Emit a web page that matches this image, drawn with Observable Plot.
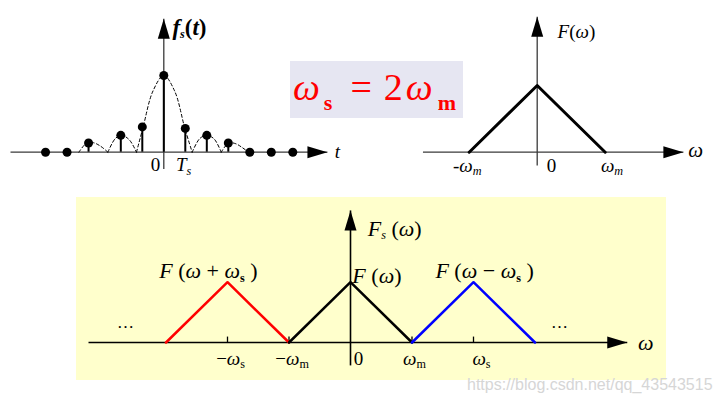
<!DOCTYPE html>
<html>
<head>
<meta charset="utf-8">
<script src="https://cdn.jsdelivr.net/npm/d3@7"></script>
<script src="https://cdn.jsdelivr.net/npm/@observablehq/plot@0.6"></script>
<style>
html,body{margin:0;padding:0;background:#fff;}
#wrap{position:relative;width:720px;height:405px;overflow:hidden;font-family:"Liberation Serif","Times New Roman","DejaVu Serif",serif;}
#wrap svg{position:absolute;left:0;top:0;}
#band{position:absolute;left:76px;top:197px;width:590px;height:183px;background:#ffffcc;}
#eq{position:absolute;left:290px;top:61px;width:173px;height:57px;background:#e6e6f2;color:#ff0000;
    font-family:"Liberation Serif","Times New Roman","DejaVu Serif",serif;font-size:38px;line-height:52px;white-space:nowrap;padding-left:3px;box-sizing:border-box;}
#eq span{font-family:"Liberation Serif","Times New Roman","DejaVu Serif",serif;}
#eq .w{font-style:italic;}
#eq .sb{font-weight:bold;font-size:22px;vertical-align:-10px;}
#wm{position:absolute;left:467px;top:376px;font-family:"Liberation Sans",Arial,sans-serif;font-size:16px;color:#d6d6d6;white-space:nowrap;}
</style>
</head>
<body>
<div id="wrap">
  <div id="band"></div>
  <div id="eq"><span class="w">ω</span><span class="sb" style="margin-left:4px">s</span><span style="margin-left:18px">=</span><span style="margin-left:12px">2</span><span class="w" style="margin-left:3px">ω</span><span class="sb" style="margin-left:5px">m</span></div>
  <div id="wm">https://blog.csdn.net/qq_43543515</div>
</div>
<script>
// ---------- Panel 1: sampled signal f_s(t), t in units of Ts ----------
const sampleT = [-5.5, -4.5, -3.5, -2, -1, 0, 1, 2, 3, 4, 5, 6];
const sampleV = [0, 0, 0.12, 0.22, 0.33, 1, 0.31, 0.22, 0.12, 0, 0, 0];
// dashed envelope, read point by point (one lobe per id)
const envT    = [-3.95, -3.62, -3.3, -2.95, -2.6,   -2.6, -2.25, -1.95, -1.6, -1.27,
                 -1.27, -0.96, -0.5, 0, 0.5, 0.98, 1.32,   1.32, 1.68, 2.02, 2.35, 2.67,
                 2.67, 3.02, 3.35, 3.65, 3.94];
const envV    = [0, 0.11, 0.125, 0.08, 0,   0, 0.18, 0.22, 0.16, 0,
                 0, 0.33, 0.80, 1, 0.80, 0.31, 0,   0, 0.18, 0.22, 0.17, 0,
                 0, 0.12, 0.11, 0.06, 0];
const envLobe = [1,1,1,1,1, 2,2,2,2,2, 3,3,3,3,3,3,3, 4,4,4,4,4, 5,5,5,5,5];
const p1Axis  = {t: [-7.13, 7.61], v: [-0.22, 1.74]};
const p1LabelText = ["f_{*s}(t)", "t", "0", "T_{*s}"];
const p1LabelT    = [0.4, 8.07, -0.39, 0.92];
const p1LabelV    = [1.63, 0.0, -0.17, -0.17];

// ---------- Panel 2: spectrum F(ω), ω in units of ωm ----------
const specW = [-1, 0, 1];
const specF = [0, 1, 0];
const p2Axis = {w: [-1.68, 2.15], f: [-0.2, 2.03]};
const p2LabelText = ["F(ω)", "ω", "-ω_{*m}", "0", "ω_{*m}"];
const p2LabelW    = [0.3, 2.33, -1.03, 0.21, 1.1];
const p2LabelF    = [1.81, 0.03, -0.2, -0.2, -0.2];

// ---------- Panel 3: sampled spectrum Fs(ω), ωs = 2ωm ----------
const repW    = [-3, -2, -1,   -1, 0, 1,   1, 2, 3];
const repF    = [0, 1, 0,      0, 1, 0,    0, 1, 0];
const repName = ["F(ω+ωs)","F(ω+ωs)","F(ω+ωs)","F(ω)","F(ω)","F(ω)","F(ω−ωs)","F(ω−ωs)","F(ω−ωs)"];
const repColors = ["#ff0000", "#000000", "#0000ff"];
const p3Axis = {w: [-4.26, 4.5], f: [-0.38, 2.19]};
const p3TickW = [-2, -1, 1, 2];
const p3TickText = ["−ω_{s}", "−ω_{m}", "0", "ω_{m}", "ω_{s}"];
const p3TickLabelW = [-1.95, -0.95, 0.13, 1.04, 2.13];
const p3Labels = ["F (ω + ω_{!s} )", "F (ω)", "F (ω − ω_{!s} )", "F_{*s} (ω)", "…", "…", "ω"];
const p3LabelW = [-2.31, 0.03, 2.18, 0.28, -3.66, 3.4, 4.8];
const p3LabelF = [1.18, 1.11, 1.18, 1.89, 0.33, 0.33, 0.0];
const p3LabelAnchor = ["middle", "start", "middle", "start", "middle", "middle", "middle"];

// filled arrowhead symbol (tip at the anchor point, pointing up before rotation)
const arrowHead = {draw(ctx) { ctx.moveTo(0, 0); ctx.lineTo(-6, 20); ctx.lineTo(6, 20); ctx.closePath(); }};

function axesMarks(xd, yd, stroke, sw) {
  const lines = [{x1: xd[0], x2: xd[1], y1: 0, y2: 0}, {x1: 0, x2: 0, y1: yd[0], y2: yd[1]}];
  const heads = [{x: xd[1], y: 0, r: 90}, {x: 0, y: yd[1], r: 0}];
  return [
    Plot.link(lines, {x1: "x1", x2: "x2", y1: "y1", y2: "y2", stroke, strokeWidth: sw}),
    Plot.dot(heads, {x: "x", y: "y", rotate: "r", symbol: arrowHead, r: 5, fill: "black", stroke: "none"})
  ];
}

function rich(svg) {
  d3.select(svg).selectAll("text").each(function() {
    const src = this.textContent;
    const fs = parseFloat(getComputedStyle(this).fontSize) || 16;
    const toks = [];
    for (let i = 0; i < src.length;) {
      if (src[i] === "_" && src[i + 1] === "{") {
        const j = src.indexOf("}", i);
        let body = src.slice(i + 2, j), st = "normal", wt = null;
        if (body[0] === "*") { st = "italic"; body = body.slice(1); }
        else if (body[0] === "!") { wt = "bold"; body = body.slice(1); }
        toks.push({t: body, sub: true, st, wt});
        i = j + 1;
      } else {
        const ch = src[i];
        const st = /[A-Za-zω]/.test(ch) ? "italic" : "normal";
        const last = toks[toks.length - 1];
        if (last && !last.sub && last.st === st) last.t += ch;
        else toks.push({t: ch, sub: false, st});
        i++;
      }
    }
    this.textContent = "";
    let shifted = false;
    for (const k of toks) {
      const ts = d3.select(this).append("tspan").text(k.t).attr("font-style", k.st);
      if (k.wt) ts.attr("font-weight", k.wt);
      if (k.sub) { ts.attr("font-size", fs * 0.76); if (!shifted) ts.attr("dy", fs * 0.22); shifted = true; }
      else if (shifted) { ts.attr("dy", -fs * 0.22); shifted = false; }
    }
  });
  return svg;
}

const base = {width: 720, height: 405, style: {background: "transparent", overflow: "visible"}};
const serif = "Liberation Serif, Times New Roman, serif";

// Panel 1
const samples = sampleT.map((t, i) => ({t, v: sampleV[i]}));
const env = envT.map((t, i) => ({t, v: envV[i], lobe: envLobe[i]}));
const p1Labels = p1LabelText.map((s, i) => ({s, t: p1LabelT[i], v: p1LabelV[i]}));
const plot1 = Plot.plot({
  ...base,
  x: {domain: [0, 1], range: [163.3, 184.8], axis: null},
  y: {domain: [0, 1], range: [151.7, 75], axis: null},
  marks: [
    ...axesMarks(p1Axis.t, p1Axis.v, "#3a3a3a", 1.3),
    Plot.line(env, {x: "t", y: "v", z: "lobe", curve: "catmull-rom", stroke: "black", strokeWidth: 1, strokeDasharray: "3,2.5"}),
    Plot.ruleX(samples, {x: "t", y1: 0, y2: "v", stroke: "black", strokeWidth: 2}),
    Plot.dot(samples, {x: "t", y: "v", r: 4.5, fill: "black"}),
    Plot.text(p1Labels.slice(0, 1), {x: "t", y: "v", text: "s", textAnchor: "start", fontSize: 23, fontWeight: "bold", fontFamily: serif, fill: "black"}),
    Plot.text(p1Labels.slice(1), {x: "t", y: "v", text: "s", fontSize: 19, fontFamily: serif, fill: "black"})
  ]
});

// Panel 2
const spec = specW.map((w, i) => ({w, f: specF[i]}));
const p2Labels = p2LabelText.map((s, i) => ({s, w: p2LabelW[i], f: p2LabelF[i]}));
const plot2 = Plot.plot({
  ...base,
  x: {domain: [0, 1], range: [536.7, 604.7], axis: null},
  y: {domain: [0, 1], range: [151.7, 85], axis: null},
  marks: [
    ...axesMarks(p2Axis.w, p2Axis.f, "#3a3a3a", 1.3),
    Plot.line(spec, {x: "w", y: "f", stroke: "black", strokeWidth: 3}),
    Plot.text(p2Labels.slice(0, 1), {x: "w", y: "f", text: "s", textAnchor: "start", fontSize: 19, fontFamily: serif, fill: "black"}),
    Plot.text(p2Labels.slice(1, 2), {x: "w", y: "f", text: "s", fontSize: 21, fontFamily: serif, fill: "black"}),
    Plot.text(p2Labels.slice(2), {x: "w", y: "f", text: "s", fontSize: 19, fontFamily: serif, fill: "black"})
  ]
});

// Panel 3
const rep = repW.map((w, i) => ({w, f: repF[i], name: repName[i]}));
const p3Ticks = p3TickText.map((s, i) => ({s, w: p3TickLabelW[i]}));
const p3Lab = p3Labels.map((s, i) => ({s, w: p3LabelW[i], f: p3LabelF[i], a: p3LabelAnchor[i]}));
const plot3 = Plot.plot({
  ...base,
  x: {domain: [0, 1], range: [350, 411.5], axis: null},
  y: {domain: [0, 1], range: [342, 281.7], axis: null},
  color: {domain: ["F(ω+ωs)", "F(ω)", "F(ω−ωs)"], range: repColors},
  marks: [
    ...axesMarks(p3Axis.w, p3Axis.f, "black", 1.6),
    Plot.ruleX(p3TickW, {x: d => d, y1: 0, y2: 0.09, stroke: "black", strokeWidth: 1.3}),
    Plot.line(rep, {x: "w", y: "f", z: "name", stroke: "name", strokeWidth: 2.5}),
    Plot.text(p3Ticks, {x: "w", y: -0.27, text: "s", fontSize: 19, fontFamily: serif, fill: "black"}),
    Plot.text(p3Lab.filter(d => d.a === "start"), {x: "w", y: "f", text: "s", textAnchor: "start", fontSize: 22, fontFamily: serif, fill: "black"}),
    Plot.text(p3Lab.filter(d => d.a === "middle" && d.s !== "…"), {x: "w", y: "f", text: "s", fontSize: 22, fontFamily: serif, fill: "black"}),
    Plot.text(p3Lab.filter(d => d.s === "…"), {x: "w", y: "f", text: "s", fontSize: 17, fontFamily: serif, fill: "black"})
  ]
});

const wrap = document.getElementById("wrap");
for (const p of [plot1, plot2, plot3]) wrap.appendChild(rich(p));
</script>
</body>
</html>
